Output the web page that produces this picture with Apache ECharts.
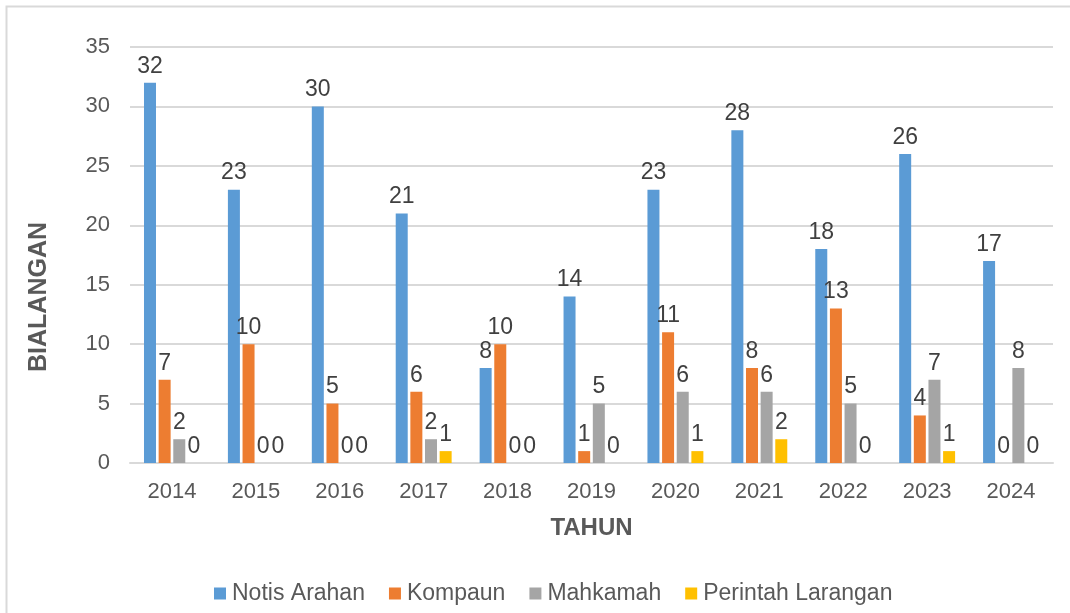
<!DOCTYPE html>
<html>
<head>
<meta charset="utf-8">
<script src="https://cdn.jsdelivr.net/npm/echarts@6/dist/echarts.min.js"></script>
<style>
  html, body { margin: 0; padding: 0; background: #fff; }
  #chart { width: 1070px; height: 613px; }
</style>
</head>
<body>
<div id="chart"></div>
<script>
const years = ['2014', '2015', '2016', '2017', '2018', '2019', '2020', '2021', '2022', '2023', '2024']
const notisArahan = [32, 23, 30, 21, 8, 14, 23, 28, 18, 26, 17]
const kompaun = [7, 10, 5, 6, 10, 1, 11, 8, 13, 4, 0]
const mahkamah = [2, 0, 0, 2, 0, 5, 6, 6, 5, 7, 8]
const perintahLarangan = [0, 0, 0, 1, 0, 0, 1, 2, 0, 1, 0]

const font = 'Liberation Sans, Arial, sans-serif'

const makeSeries = (name, data, color) => ({
  name: name,
  type: 'bar',
  data: data,
  barWidth: 12,
  barGap: '22%',
  itemStyle: { color: color },
  label: {
    show: true,
    position: 'top',
    distance: 5,
    color: '#404040',
    fontSize: 23,
    fontFamily: font
  }
})

const chart = echarts.init(document.getElementById('chart'))
chart.setOption({
  animation: false,
  graphic: [{
    type: 'rect',
    shape: { x: 6.5, y: 6.5, width: 1100, height: 700 },
    style: { fill: 'none', stroke: '#d9d9d9', lineWidth: 2 },
    silent: true
  }],
  grid: { left: 130, right: 17, top: 47, bottom: 150 },
  legend: {
    top: 577,
    left: 209,
    itemWidth: 12,
    itemHeight: 12,
    itemGap: 24,
    icon: 'rect',
    textStyle: { color: '#595959', fontSize: 23, fontFamily: font, padding: [0, 0, 0, 1] }
  },
  xAxis: {
    type: 'category',
    data: years,
    name: 'TAHUN',
    nameLocation: 'middle',
    nameGap: 53,
    nameTextStyle: { color: '#595959', fontSize: 24, fontWeight: 'bold', fontFamily: font },
    axisTick: { show: false },
    axisLine: { lineStyle: { color: '#d9d9d9', width: 2 } },
    axisLabel: { color: '#595959', fontSize: 22, margin: 18, fontFamily: font }
  },
  yAxis: {
    type: 'value',
    min: 0,
    max: 35,
    interval: 5,
    name: 'BIALANGAN',
    nameLocation: 'middle',
    nameGap: 78,
    nameTextStyle: {
      color: '#595959', fontSize: 25, fontWeight: 'bold', fontFamily: font,
      padding: [0, 84, 0, 0]
    },
    axisLabel: { color: '#595959', fontSize: 22, margin: 20, fontFamily: font },
    splitLine: { lineStyle: { color: '#d9d9d9', width: 2 } }
  },
  series: [
    makeSeries('Notis Arahan', notisArahan, '#5b9bd5'),
    makeSeries('Kompaun', kompaun, '#ed7d31'),
    makeSeries('Mahkamah', mahkamah, '#a5a5a5'),
    makeSeries('Perintah Larangan', perintahLarangan, '#ffc000')
  ]
})
</script>
</body>
</html>
